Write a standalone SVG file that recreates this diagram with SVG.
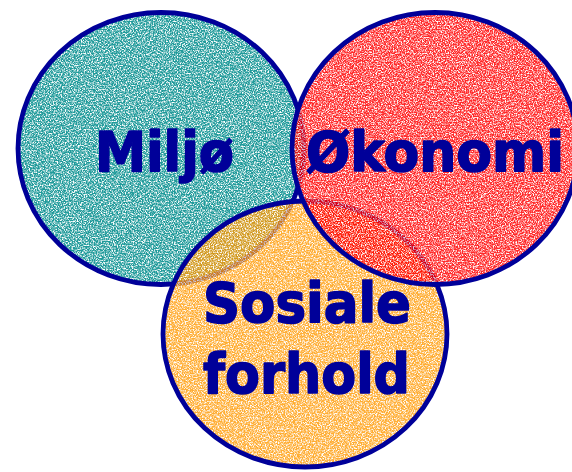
<svg xmlns="http://www.w3.org/2000/svg" width="572" height="472" viewBox="0 0 572 472">
<defs>
<filter id="tex" x="-5%" y="-5%" width="110%" height="110%" color-interpolation-filters="sRGB">
<feTurbulence type="fractalNoise" baseFrequency="0.75" numOctaves="2" seed="7" result="t"/>
<feColorMatrix in="t" type="matrix" values="0 0 0 0 1  0 0 0 0 1  0 0 0 0 1  3.2 0 0 0 -1.3" result="w"/>
<feComposite in="w" in2="SourceAlpha" operator="in" result="wc"/>
<feMerge><feMergeNode in="SourceGraphic"/><feMergeNode in="wc"/></feMerge>
</filter>
<style>
.fill{filter:url(#tex);stroke:none}
.ring{fill:none;stroke:#000099;stroke-width:4.8}
.lbl{font-family:"DejaVu Sans",Verdana,sans-serif;font-weight:bold;font-size:55px;fill:#000099;stroke:#000099;stroke-width:1.6;stroke-linejoin:round}
</style>
</defs>
<rect width="572" height="472" fill="#ffffff"/>
<g id="node-miljo">
<ellipse class="fill" cx="161" cy="148.5" rx="143" ry="136" fill="#1f9a9a"/>
<ellipse class="ring" cx="161" cy="148.5" rx="143" ry="136"/>
<text class="lbl" x="95" y="171" textLength="139" lengthAdjust="spacingAndGlyphs">Miljø</text>
</g>
<g id="node-sosiale">
<ellipse class="fill" cx="305" cy="334" rx="142" ry="133" fill="#ff9900" opacity="0.8"/>
<ellipse class="ring" cx="305" cy="334" rx="142" ry="133"/>
<text class="lbl" x="203" y="322" textLength="208" lengthAdjust="spacingAndGlyphs">Sosiale</text>
<text class="lbl" x="203" y="393" textLength="207" lengthAdjust="spacingAndGlyphs">forhold</text>
</g>
<g id="node-okonomi">
<ellipse class="fill" cx="435" cy="148.5" rx="143" ry="136" fill="#ff0000" opacity="0.84"/>
<ellipse class="ring" cx="435" cy="148.5" rx="143" ry="136"/>
<text class="lbl" x="306" y="171" textLength="258" lengthAdjust="spacingAndGlyphs">Økonomi</text>
</g>
<g id="connectors"/>
</svg>
